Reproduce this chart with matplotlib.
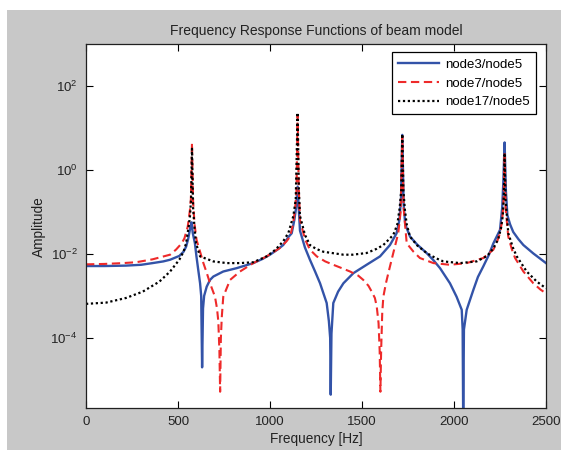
import matplotlib
matplotlib.use("Agg")
import matplotlib.pyplot as plt
from matplotlib.patches import Rectangle
from matplotlib.ticker import FixedLocator, NullLocator
import numpy as np

# ---- data (frequency in Hz, log10 of amplitude) ----
node3_freq = [0, 100, 217, 300, 362, 420, 457, 490, 507, 530, 544, 555, 562, 568, 574, 580,
              592, 600, 610, 620, 626, 631, 636, 642, 656, 674, 692, 746, 819, 909, 960, 1000,
              1040, 1072, 1100, 1118, 1132, 1142, 1150, 1156, 1163, 1190, 1217, 1245, 1272,
              1295, 1308, 1320, 1327, 1330, 1334, 1344, 1370, 1399, 1453, 1525, 1598, 1652,
              1688, 1703, 1712, 1719, 1726, 1735, 1761, 1800, 1851, 1890, 1924, 1978, 2014,
              2042, 2047, 2050, 2054, 2069, 2105, 2130, 2159, 2190, 2214, 2250, 2262, 2268,
              2275, 2282, 2290, 2305, 2322, 2350, 2377, 2431, 2470, 2500]
node3_log_amp = [-2.29, -2.29, -2.28, -2.26, -2.22, -2.18, -2.14, -2.08, -2.05, -1.95, -1.83,
                 -1.65, -1.49, -1.35, -1.25, -1.5, -1.75, -2.05, -2.38, -2.7, -3.0, -4.7, -3.3,
                 -3.0, -2.78, -2.62, -2.54, -2.42, -2.34, -2.22, -2.12, -2.02, -1.9, -1.79,
                 -1.6, -1.51, -1.2, -0.9, -0.4, -0.9, -1.45, -1.85, -2.14, -2.42, -2.7, -3.0,
                 -3.17, -3.6, -4.0, -5.35, -3.9, -3.17, -2.9, -2.7, -2.46, -2.26, -2.06, -1.79,
                 -1.51, -1.2, -0.7, 0.83, -0.8, -1.3, -1.59, -1.78, -1.98, -2.16, -2.34, -2.7,
                 -3.02, -3.33, -3.8, -6.0, -3.8, -3.33, -2.86, -2.55, -2.3, -2.02, -1.75,
                 -1.43, -0.9, -0.3, 0.65, -0.5, -1.08, -1.3, -1.48, -1.65, -1.79, -1.99, -2.12,
                 -2.22]

node7_freq = [0, 100, 200, 272, 362, 457, 489, 520, 535, 553, 565, 570, 576, 582, 590, 601,
              620, 638, 656, 674, 701, 712, 719, 725, 729, 733, 738, 746, 783, 837, 909, 982,
              1054, 1090, 1109, 1125, 1136, 1144, 1150, 1156, 1163, 1190, 1217, 1254, 1300,
              1344, 1390, 1435, 1480, 1507, 1535, 1553, 1570, 1580, 1590, 1596, 1600, 1604,
              1610, 1616, 1630, 1643, 1670, 1697, 1710, 1719, 1726, 1743, 1780, 1815, 1888,
              1978, 2069, 2159, 2214, 2235, 2250, 2262, 2270, 2275, 2280, 2295, 2315, 2332,
              2377, 2431, 2470, 2500]
node7_log_amp = [-2.25, -2.24, -2.22, -2.2, -2.13, -2.02, -1.9, -1.75, -1.63, -1.35, -0.95,
                 -0.7, 0.636, -0.75, -1.3, -1.67, -1.95, -2.22, -2.45, -2.7, -3.02, -3.3, -3.6,
                 -4.3, -5.28, -4.0, -3.5, -3.02, -2.62, -2.42, -2.22, -2.06, -1.86, -1.7, -1.59,
                 -1.3, -0.95, -0.5, 1.3, -0.4, -1.2, -1.65, -1.9, -2.06, -2.18, -2.26, -2.34,
                 -2.42, -2.52, -2.62, -2.76, -2.9, -3.05, -3.25, -3.65, -4.3, -5.28, -4.3, -3.4,
                 -3.02, -2.7, -2.46, -1.98, -1.51, -1.0, 0.8, -0.9, -1.75, -1.95, -2.1, -2.22,
                 -2.26, -2.22, -2.1, -1.9, -1.7, -1.51, -1.2, -0.7, 0.4, -0.9, -1.59, -1.9,
                 -2.1, -2.42, -2.7, -2.85, -2.94]

node17_freq = [0, 109, 217, 308, 399, 457, 507, 530, 544, 558, 565, 571, 576, 582, 590, 598,
               620, 692, 765, 837, 909, 982, 1030, 1072, 1100, 1127, 1140, 1150, 1157, 1163,
               1190, 1217, 1250, 1290, 1399, 1450, 1525, 1580, 1616, 1670, 1692, 1705, 1713,
               1719, 1725, 1733, 1743, 1761, 1800, 1851, 1900, 1942, 2033, 2123, 2180, 2214,
               2240, 2255, 2265, 2271, 2275, 2280, 2295, 2320, 2341, 2395, 2450, 2500]
node17_log_amp = [-3.19, -3.16, -3.05, -2.9, -2.66, -2.42, -2.14, -1.95, -1.75, -1.35, -1.11,
                  -0.7, 0.5, -0.9, -1.4, -1.75, -2.06, -2.18, -2.22, -2.22, -2.2, -2.06, -1.9,
                  -1.7, -1.5, -1.1, -0.7, 1.36, -0.5, -1.1, -1.55, -1.79, -1.88, -1.95, -2.02,
                  -2.02, -1.98, -1.88, -1.79, -1.55, -1.3, -0.9, -0.5, 0.85, -0.5, -0.95, -1.3,
                  -1.59, -1.8, -1.98, -2.1, -2.18, -2.22, -2.18, -2.05, -1.87, -1.65, -1.4,
                  -1.1, -0.6, 0.4, -0.7, -1.51, -1.85, -2.06, -2.42, -2.66, -2.82]

series_labels = ["node3/node5", "node7/node5", "node17/node5"]
ytick_values = [1e-4, 1e-2, 1e0, 1e2]
ytick_labels = ["$10^{-4}$", "$10^{-2}$", "$10^{0}$", "$10^{2}$"]
xtick_values = [0, 500, 1000, 1500, 2000, 2500]

# ---- figure ----
plt.rcParams['font.family'] = ['Liberation Sans', 'DejaVu Sans']
plt.rcParams['mathtext.fontset'] = 'custom'
plt.rcParams['mathtext.rm'] = 'Liberation Sans'
plt.rcParams['mathtext.it'] = 'Liberation Sans'

W, H = 561, 450
fig = plt.figure(figsize=(W / 100, H / 100), dpi=100, facecolor='white')
bg = Rectangle((7 / W, 0), 1 - 7 / W, 1 - 10 / H, transform=fig.transFigure,
               facecolor='#c8c8c8', edgecolor='none', zorder=-10)
fig.add_artist(bg)

ax = fig.add_axes([86 / W, (H - 408) / H, (546 - 86) / W, (408 - 44.5) / H])
ax.set_zorder(5)
ax.set_facecolor('white')

ax.plot(node3_freq, 10 ** np.array(node3_log_amp), color='#3353a8', lw=1.7, ls='-',
        label=series_labels[0])
ax.plot(node7_freq, 10 ** np.array(node7_log_amp), color='#ee2a2a', lw=1.5, ls=(0, (4, 2.2)),
        label=series_labels[1])
ax.plot(node17_freq, 10 ** np.array(node17_log_amp), color='black', lw=1.6, ls=(0, (1, 1.2)),
        label=series_labels[2])

ax.set_yscale('log')
ax.set_xlim(0, 2500)
ax.set_ylim(10 ** -5.667, 10 ** 2.98)
ax.yaxis.set_major_locator(FixedLocator(ytick_values))
ax.set_yticklabels(ytick_labels)
ax.yaxis.set_minor_locator(NullLocator())
ax.set_xticks(xtick_values)
ax.set_xticklabels([str(v) for v in xtick_values])

ax.tick_params(direction='in', length=5, width=0.8, top=True, right=True,
               labelsize=9.5, colors='black', labelcolor='#222222', pad=6)
for s in ax.spines.values():
    s.set_linewidth(0.9)
    s.set_color('#202020')

ax.set_title("Frequency Response Functions of beam model", fontsize=10, color='#222222', pad=7)
ax.set_xlabel("Frequency [Hz]", fontsize=9.8, color='#222222', labelpad=3)
ax.set_ylabel("Amplitude", fontsize=9.8, color='#222222', labelpad=3)

leg = ax.legend(loc='upper right', bbox_to_anchor=(0.9775, 0.978), fontsize=9.5, frameon=True,
                fancybox=False, framealpha=1, edgecolor='black', borderpad=0.45,
                handlelength=3.1, handletextpad=0.45, labelspacing=0.5, borderaxespad=0)
leg.get_frame().set_linewidth(0.9)

fig.savefig("out.png", dpi=100, facecolor=fig.get_facecolor())
